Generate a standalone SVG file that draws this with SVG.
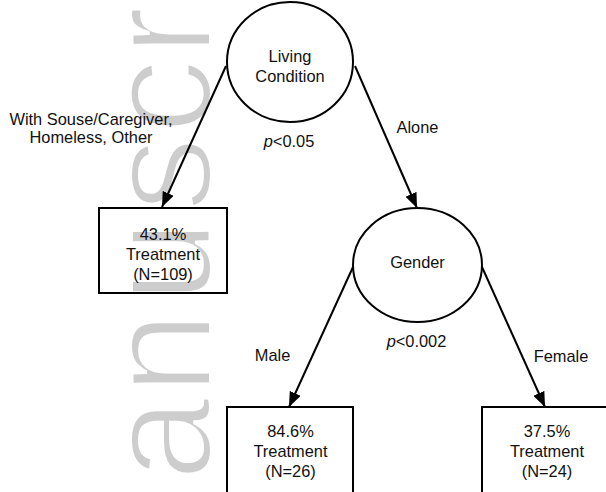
<svg xmlns="http://www.w3.org/2000/svg" width="606" height="492" viewBox="0 0 606 492">
<defs>
<style>
text{font-family:"Liberation Sans",Arial,sans-serif;font-size:16.4px;fill:#111;text-anchor:middle}
.wm{font-size:150px;fill:#cdcdcd;stroke:#fff;stroke-width:4;text-anchor:start}
.node{fill:none;stroke:#000;stroke-width:2}
.edge{fill:none;stroke:#000;stroke-width:2;marker-end:url(#ah)}
</style>
<marker id="ah" markerUnits="userSpaceOnUse" markerWidth="16" markerHeight="12" refX="15" refY="6" orient="auto">
<path d="M0,0 L15,6 L0,12 z" fill="#000"/>
</marker>
</defs>
<rect width="606" height="492" fill="#fff"/>
<g id="watermark" transform="translate(211,0) rotate(-90)">
<text class="wm" x="-481 -395 -303 -212 -134 -56" y="0">anuscr</text>
</g>
<g id="connectors">
<line class="edge" x1="226" y1="66" x2="162" y2="207"/>
<line class="edge" x1="355" y1="66" x2="417" y2="208"/>
<line class="edge" x1="353" y1="267" x2="289" y2="407"/>
<line class="edge" x1="482" y1="267" x2="545" y2="407"/>
<text x="91" y="125">With Souse/Caregiver,</text>
<text x="91" y="143">Homeless, Other</text>
<text x="417.5" y="133">Alone</text>
<text x="272.5" y="361">Male</text>
<text x="561" y="362">Female</text>
</g>
<g id="living">
<ellipse class="node" cx="290" cy="62" rx="63" ry="60"/>
<text x="290" y="62">Living</text>
<text x="290" y="82">Condition</text>
<text x="289" y="147"><tspan font-style="italic">p</tspan>&lt;0.05</text>
</g>
<g id="gender">
<ellipse class="node" cx="417.5" cy="265" rx="64.5" ry="57"/>
<text x="417.5" y="268">Gender</text>
<text x="416.5" y="347"><tspan font-style="italic">p</tspan>&lt;0.002</text>
</g>
<g id="leaf1">
<rect class="node" x="99" y="208" width="128" height="85"/>
<text x="163" y="240">43.1%</text>
<text x="163" y="260">Treatment</text>
<text x="163" y="280">(N=109)</text>
</g>
<g id="leaf2">
<rect class="node" x="227" y="407" width="126" height="95"/>
<text x="290.5" y="437">84.6%</text>
<text x="290.5" y="457">Treatment</text>
<text x="290.5" y="477">(N=26)</text>
</g>
<g id="leaf3">
<rect class="node" x="482" y="407" width="130" height="95"/>
<text x="547" y="437">37.5%</text>
<text x="547" y="457">Treatment</text>
<text x="547" y="477">(N=24)</text>
</g>
</svg>
